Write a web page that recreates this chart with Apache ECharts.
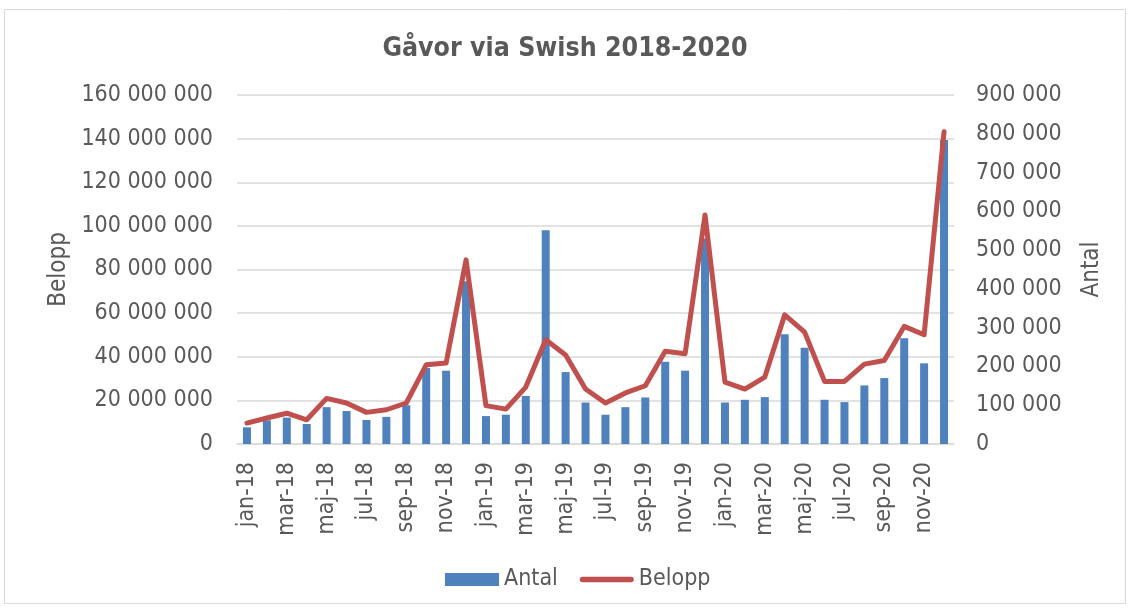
<!DOCTYPE html>
<html>
<head>
<meta charset="utf-8">
<script src="https://cdn.jsdelivr.net/npm/echarts@6/dist/echarts.min.js"></script>
<style>
  html, body { margin: 0; padding: 0; background: #fff; }
  #chart { width: 1130px; height: 609px; }
</style>
</head>
<body>
<div id="chart"></div>
<script>
// månader jan-18 .. dec-20
const months = ['jan', 'feb', 'mar', 'apr', 'maj', 'jun', 'jul', 'aug', 'sep', 'okt', 'nov', 'dec']
const years = ['18', '19', '20']
const categories = []
years.forEach(y => months.forEach(m => categories.push(m + '-' + y)))

// Antal (höger axel)
const antal = [
  43000, 61000, 68000, 51500, 95000, 85000, 62000, 70000, 100000, 196000, 189000, 420000,
  72000, 75500, 124000, 551000, 185500, 107000, 75500, 95000, 120000, 212000, 189000, 530000,
  107000, 114000, 121000, 283000, 248000, 114000, 108000, 151000, 170000, 273000, 208000, 784000
]

// Belopp (vänster axel)
const belopp = [
  9600000, 11900000, 14100000, 11100000, 20900000, 18800000, 14500000, 15700000, 18800000, 36300000, 37100000, 84400000,
  17600000, 16000000, 26100000, 47800000, 40800000, 25200000, 18800000, 23400000, 26700000, 42500000, 41400000, 105000000,
  28400000, 25200000, 30700000, 59200000, 51300000, 28700000, 28700000, 36600000, 38300000, 53900000, 50100000, 143200000
]

const textColor = '#595959'
const fontFamily = '"DejaVu Sans Condensed", "DejaVu Sans"'

function fmt (v) {
  return String(v).replace(/\B(?=(\d{3})+(?!\d))/g, ' ')
}

const chart = echarts.init(document.getElementById('chart'))
const option = {
  backgroundColor: '#fff',
  animation: false,
  textStyle: { fontFamily: fontFamily, color: textColor },
  graphic: [
    {
      type: 'rect',
      shape: { x: 4.5, y: 9.5, width: 1121, height: 594 },
      style: { fill: 'none', stroke: '#D9D9D9', lineWidth: 1 }
    }
  ],
  title: {
    text: 'Gåvor via Swish 2018-2020',
    left: 'center',
    top: 31,
    textStyle: { fontFamily: fontFamily, fontSize: 26.5, fontWeight: 'bold', color: textColor }
  },
  legend: {
    bottom: 13,
    left: 440,
    itemWidth: 54,
    itemHeight: 13,
    itemGap: 22,
    textStyle: { fontFamily: fontFamily, fontSize: 23, color: textColor },
    data: [
      { name: 'Antal', icon: 'rect' },
      // tjock linje utan punkt, hörnpunkter ger ikonens ram
      { name: 'Belopp', icon: 'path://M0,0L0.01,0L0.01,0.01Z M1,3.5L53,3.5A3,3,0,0,1,53,9.5L1,9.5A3,3,0,0,1,1,3.5Z M54,13L53.99,13L53.99,12.99Z' }
    ]
  },
  grid: {
    left: 237,
    right: 176,
    top: 95,
    bottom: 165
  },
  xAxis: {
    type: 'category',
    data: categories,
    axisLine: { lineStyle: { color: '#D9D9D9', width: 1.5 } },
    axisTick: { show: false },
    axisLabel: {
      interval: 1,
      rotate: 90,
      margin: 18,
      fontSize: 23,
      fontFamily: fontFamily,
      color: textColor
    }
  },
  yAxis: [
    {
      type: 'value',
      name: 'Belopp',
      nameLocation: 'middle',
      nameGap: 160,
      nameRotate: 90,
      nameTextStyle: { fontSize: 24, fontFamily: fontFamily, color: textColor },
      min: 0,
      max: 160000000,
      interval: 20000000,
      axisLine: { show: false },
      axisTick: { show: false },
      axisLabel: {
        margin: 24,
        fontSize: 23,
        fontFamily: fontFamily,
        color: textColor,
        formatter: fmt
      },
      splitLine: { lineStyle: { color: '#D9D9D9', width: 1.5 } }
    },
    {
      type: 'value',
      name: 'Antal',
      nameLocation: 'middle',
      nameGap: 126,
      nameRotate: 90,
      nameTextStyle: { fontSize: 24, fontFamily: fontFamily, color: textColor },
      min: 0,
      max: 900000,
      interval: 100000,
      axisLine: { show: false },
      axisTick: { show: false },
      axisLabel: {
        margin: 22,
        fontSize: 23,
        fontFamily: fontFamily,
        color: textColor,
        formatter: fmt
      },
      splitLine: { show: false }
    }
  ],
  series: [
    {
      name: 'Antal',
      type: 'bar',
      yAxisIndex: 1,
      barWidth: 8,
      itemStyle: { color: '#4F81BD' },
      data: antal
    },
    {
      name: 'Belopp',
      type: 'line',
      yAxisIndex: 0,
      symbol: 'none',
      lineStyle: { color: '#C0504D', width: 5, cap: 'round', join: 'round' },
      itemStyle: { color: '#C0504D' },
      data: belopp
    }
  ]
}
chart.setOption(option)
</script>
</body>
</html>
